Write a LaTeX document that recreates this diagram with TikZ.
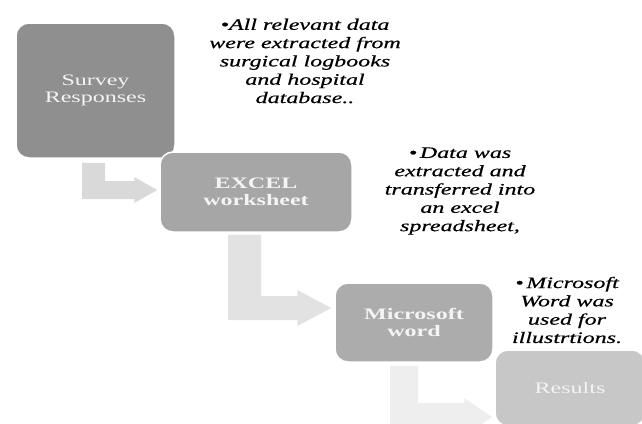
\documentclass[tikz,border=0pt]{standalone}
\usepackage{fontspec}
\setmainfont{Liberation Serif}[FakeStretch=1.5]
\newfontfamily\notefont{Liberation Serif}[FakeStretch=1.5, FakeBold=0.5]
\usetikzlibrary{calc}
\definecolor{boxA}{HTML}{8F8F8F}
\definecolor{boxB}{HTML}{A6A6A6}
\definecolor{boxC}{HTML}{ACACAC}
\definecolor{boxD}{HTML}{C7C7C7}
\definecolor{arrA}{HTML}{D9D9D9}
\definecolor{arrB}{HTML}{E2E2E2}
\definecolor{arrC}{HTML}{EEEEEE}
\definecolor{boxtext}{HTML}{F4F4F4}
\tikzset{
  stepbox/.style={rectangle, rounded corners=13pt, draw=white, line width=1.5pt,
    inner sep=0pt, align=center, text=boxtext,
    font=\fontsize{16}{17.5}\selectfont},
  note/.style={align=center, inner sep=0pt, text=black,
    font=\notefont\fontsize{16}{18.3}\selectfont\itshape},
}
\begin{document}
\begin{tikzpicture}[x=1pt,y=-1pt]
\useasboundingbox (0,0) rectangle (642,423);
\clip (0,0) rectangle (642,423);

% boxes
\node[stepbox, fill=boxA, minimum width=159pt, minimum height=135pt] (s) at (95.5,90.5) {Survey\\Responses};
\node[stepbox, fill=boxB, minimum width=192pt, minimum height=80pt, font=\fontsize{16}{17.5}\selectfont\bfseries] (e) at (256,192) {EXCEL\\worksheet};
\node[stepbox, fill=boxC, minimum width=158pt, minimum height=79pt, font=\fontsize{16}{17.5}\selectfont\bfseries] (m) at (414,322.5) {Microsoft\\word};
\node[stepbox, fill=boxD, minimum width=150pt, minimum height=76pt] (r) at (570,388) {Results};

\coordinate (t1) at ($(e.west)+(-2,-2)$);
\coordinate (t2) at ($(m.west)+(-3,-14.5)$);
\coordinate (t3) at ($(r.west)+(-2,29)$);

% bent arrows
\fill[arrA] ($(s.south)+(-13.5,4)$) -- ($(s.south)+(9.5,4)$) |- ($(t1)+(-23,-9)$)
  -- ($(t1)+(-23,-13)$) -- (t1) -- ($(t1)+(-23,13)$) -- ($(t1)+(-23,9)$) -| cycle;
\fill[arrB] ($(e.south)+(-28,2)$) -- ($(e.south)+(5,2)$) |- ($(t2)+(-34,-12)$)
  -- ($(t2)+(-34,-18)$) -- (t2) -- ($(t2)+(-34,18)$) -- ($(t2)+(-34,12)$) -| cycle;
\fill[arrC] ($(m.south)+(-24,3)$) -- ($(m.south)+(4,3)$) |- ($(t3)+(-28,-14)$)
  -- ($(t3)+(-28,-19)$) -- (t3) -- ($(t3)+(-28,19)$) -- ($(t3)+(-28,14)$) -| cycle;

% notes
\node[note] (n1) at (305,61) {\textbullet All relevant data\\were extracted from\\surgical logbooks\\and hospital\\database..};
\node[note] (n2) at (460,191) {\textbullet\,Data was\\extracted and\\transferred into\\an excel\\spreadsheet,};
\node[note] (n3) at (567,310) {\textbullet\,Microsoft\\Word was\\used for\\illustrtions.};
\end{tikzpicture}
\end{document}
